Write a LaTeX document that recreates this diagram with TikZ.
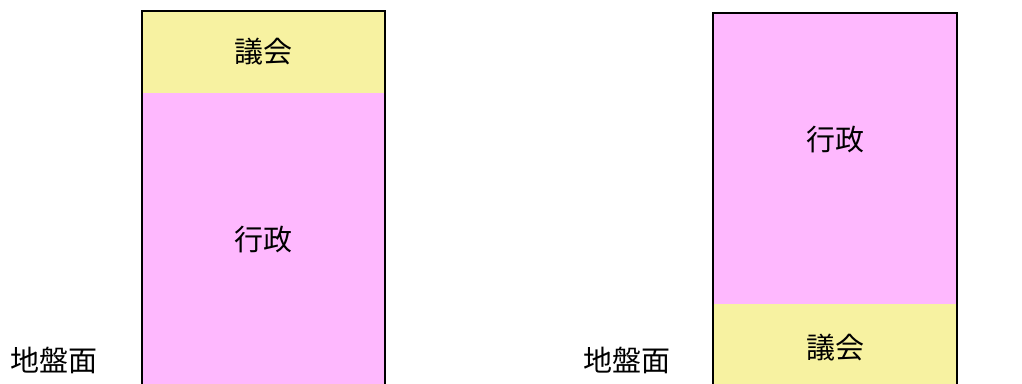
\documentclass[tikz,border=0pt]{standalone}
\usepackage{fontspec}
\setmainfont{Noto Sans CJK JP}
\definecolor{giyel}{HTML}{F7F2A1}
\definecolor{gyopink}{HTML}{FEB8FE}
\tikzset{
  lbl/.style={font=\fontsize{29}{33}\selectfont, text=black, inner sep=0pt},
  outline/.style={draw=black, line width=2pt}
}
\begin{document}
\begin{tikzpicture}[x=1pt,y=-1pt]
\useasboundingbox (0,0) rectangle (1022,383);
% left building
\fill[giyel] (142,11) rectangle (385,93);
\fill[gyopink] (142,93) rectangle (385,390);
\draw[outline] (142,390) -- (142,11) -- (385,11) -- (385,390);
\node[lbl] (gikaiL) at (263.5,52) {議会};
\node[lbl] (gyoseiL) at (263.5,240) {行政};
\node[lbl] (jibanL) at (53.5,360) {地盤面};
% right building
\fill[gyopink] (713,13) rectangle (957,304);
\fill[giyel] (713,304) rectangle (957,390);
\draw[outline] (713,390) -- (713,13) -- (957,13) -- (957,390);
\node[lbl] (gyoseiR) at (835,140) {行政};
\node[lbl] (gikaiR) at (835,348) {議会};
\node[lbl] (jibanR) at (627,360) {地盤面};
\end{tikzpicture}
\end{document}
